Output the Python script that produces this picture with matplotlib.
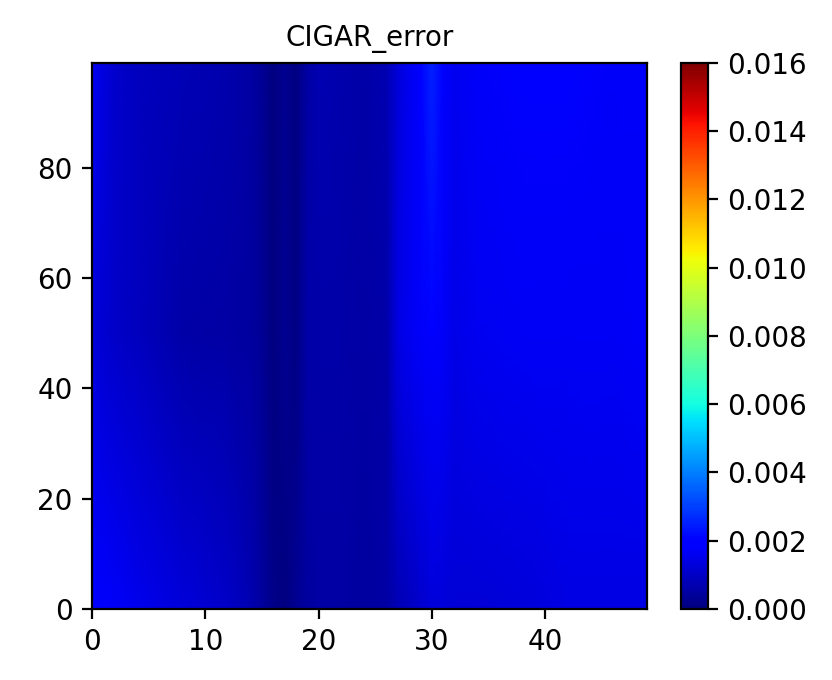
import numpy as np
import matplotlib
matplotlib.use("Agg")
import matplotlib.pyplot as plt

title = "CIGAR_error"
x_nodes = [0, 2, 4, 8, 12, 14, 15, 16, 17, 18, 19, 20, 22, 24, 26, 27, 28, 29, 30, 31, 32, 34, 38, 42, 46, 49]
# y rows where the profiles were read
y_nodes = [0, 50, 99]

row_bottom = [0.00178, 0.0017, 0.00155, 0.00125, 0.001, 0.00072, 0.00045, 0.00018, 0.00002, 0.00028,
              0.00045, 0.0005, 0.0005, 0.00045, 0.00055, 0.00075, 0.0009, 0.0011, 0.00127, 0.0013,
              0.0012, 0.00121, 0.0013, 0.0014, 0.0014, 0.0014]
row_middle = [0.00127, 0.00105, 0.00088, 0.0006, 0.00054, 0.00045, 0.00032, 0.00002, 0.00027, 0.00008,
              0.00062, 0.0006, 0.0006, 0.00055, 0.0006, 0.0014, 0.0016, 0.0017, 0.0019, 0.0017,
              0.00146, 0.0016, 0.00164, 0.00164, 0.00167, 0.0017]
row_top = [0.0016, 0.00108, 0.00092, 0.00077, 0.00066, 0.00054, 0.00032, 0.00003, 0.00027, 0.00004,
           0.00054, 0.0007, 0.00065, 0.0006, 0.0007, 0.0013, 0.00158, 0.0019, 0.0025, 0.00185,
           0.0016, 0.0017, 0.00175, 0.00175, 0.0017, 0.0017]

vmin, vmax = 0.0, 0.016

Z = np.array([row_bottom, row_middle, row_top])

fig = plt.figure(figsize=(4.16, 3.4), dpi=200)
ax = fig.add_axes([0.1106, 0.1044, 0.667, 0.803])
cax = fig.add_axes([0.8185, 0.1044, 0.0325, 0.803])

mesh = ax.pcolormesh(x_nodes, y_nodes, Z, cmap="jet", vmin=vmin, vmax=vmax, shading="gouraud")
ax.set_xlim(0, 49)
ax.set_ylim(0, 99)
ax.set_xticks([0, 10, 20, 30, 40])
ax.set_yticks([0, 20, 40, 60, 80])
ax.set_title(title, fontsize=10)

cb = fig.colorbar(mesh, cax=cax)
cb.set_ticks(np.arange(0, 0.0161, 0.002))
cb.ax.tick_params(labelsize=10)

fig.savefig("out.png", dpi=200)
